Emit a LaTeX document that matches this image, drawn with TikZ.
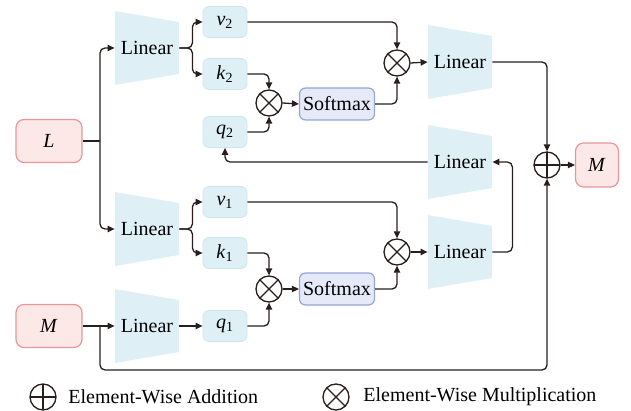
\documentclass[tikz,border=0pt]{standalone}
\usepackage{fontspec}
\setmainfont{Liberation Serif}
\usetikzlibrary{arrows.meta}
\definecolor{ink}{RGB}{40, 30, 30}
\definecolor{cyanfill}{RGB}{222, 240, 246}
\definecolor{cyanline}{RGB}{205, 230, 240}
\definecolor{pinkfill}{RGB}{252, 232, 230}
\definecolor{pinkline}{RGB}{232, 150, 155}
\definecolor{lavfill}{RGB}{230, 233, 248}
\definecolor{lavline}{RGB}{150, 165, 215}

\tikzset{
  lin/.style={minimum width=32pt, minimum height=37pt, inner sep=0pt,
    path picture={\fill[cyanfill] (path picture bounding box.north west)
      -- ([yshift=-5.5pt]path picture bounding box.north east)
      -- ([yshift=5.5pt]path picture bounding box.south east)
      -- (path picture bounding box.south west) -- cycle;}},
  qkv/.style={rounded corners=3pt, fill=cyanfill, draw=cyanline,
    minimum width=22pt, minimum height=15.5pt, inner sep=0pt},
  inout/.style={rounded corners=4pt, fill=pinkfill, draw=pinkline, line width=0.6pt,
    minimum width=33pt, minimum height=21.5pt, inner sep=0pt},
  softbox/.style={rounded corners=3pt, fill=lavfill, draw=lavline, line width=0.6pt,
    minimum width=37.5pt, minimum height=16pt, inner sep=0pt},
  mul/.style={circle, draw=ink, line width=0.65pt, minimum size=13pt, inner sep=0pt,
    path picture={\draw[ink, line width=0.65pt]
      (path picture bounding box.north west) -- (path picture bounding box.south east)
      (path picture bounding box.north east) -- (path picture bounding box.south west);}},
  add/.style={circle, draw=ink, line width=0.65pt, minimum size=13pt, inner sep=0pt,
    path picture={\draw[ink, line width=0.65pt]
      (path picture bounding box.north) -- (path picture bounding box.south)
      (path picture bounding box.west) -- (path picture bounding box.east);}},
  link/.style={ink, line width=0.65pt, rounded corners=2.5pt},
  arr/.style={link, -{Triangle[length=3.5pt, width=3.2pt]}}
}

\begin{document}
\begin{tikzpicture}[x=0.5pt, y=-0.5pt, font=\fontsize{10}{12}\selectfont]
  \useasboundingbox (0, 0) rectangle (631, 411);

  % inputs and output
  \node[inout] (L)  at (49, 141) {\textit{L}};
  \node[inout] (Mi) at (49, 326) {\textit{M}};
  \node[inout, minimum width=21.5pt, minimum height=22pt] (Mo) at (597, 165) {\textit{M}};

  % linear layers
  \node[lin] (lin2)    at (147, 48)  {Linear};
  \node[lin] (lin1)    at (147, 229) {Linear};
  \node[lin] (linq)    at (147, 326) {Linear};
  \node[lin] (linout2) at (460, 62)  {Linear};
  \node[lin] (linmid)  at (460, 162) {Linear};
  \node[lin] (linout1) at (460, 252) {Linear};

  \foreach \n/\s/\y in {v/2/22, k/2/74, q/2/132, v/1/202, k/1/253, q/1/326} {
    \node[qkv] (\n\s) at (225, \y) {\textit{\n}\textsubscript{\s}};
  }

  \node[mul] (mul2a) at (269, 103) {};
  \node[mul] (mul2b) at (397, 63)  {};
  \node[mul] (mul1a) at (269, 289) {};
  \node[mul] (mul1b) at (397, 252) {};
  \node[softbox] (soft2) at (337, 104) {Softmax};
  \node[softbox] (soft1) at (337, 289) {Softmax};
  \node[add] (plus) at (547, 165) {};

  \coordinate (lsplit) at (100, 141);
  \coordinate (msplit) at (100, 326);
  \coordinate (mbot)   at (100, 370);

  % connectors
  \draw[link] (L.east) -- (lsplit);
  \draw[arr] (lsplit) |- (lin2.west);
  \draw[arr] (lsplit) |- (lin1.west);
  \foreach \s in {1, 2} {
    \draw[arr] (lin\s.east) -- ++(13, 0) |- (v\s.west);
    \draw[arr] (lin\s.east) -- ++(13, 0) |- (k\s.west);
    \draw[arr] (v\s.east) -| (mul\s b.north);
    \draw[arr] (k\s.east) -| (mul\s a.north);
    \draw[arr] (q\s.east) -| (mul\s a.south);
    \draw[arr] (mul\s a.east) -- (soft\s.west);
    \draw[arr] (soft\s.east) -| (mul\s b.south);
    \draw[arr] (mul\s b.east) -- (linout\s.west);
  }
  \draw[arr] (Mi.east) -- (linq.west);
  \draw[arr] (linq.east) -- (q1.west);
  \draw[arr] (linout1.east) -- ++(20, 0) |- (linmid.east);
  \draw[arr] (linmid.west) -| (q2.south);
  \draw[arr] (linout2.east) -| (plus.north);
  \draw[arr] (msplit) -- (mbot) -| (plus.south);
  \draw[arr] (plus.east) -- (Mo.west);

  % legend
  \node[add] (addkey) at (43, 397) {};
  \node[anchor=west, inner sep=0pt] (addtext) at (68, 397) {Element-Wise Addition};
  \node[mul] (mulkey) at (336, 397) {};
  \node[anchor=west, inner sep=0pt] (multext) at (363, 397) {Element-Wise Multiplication};
\end{tikzpicture}
\end{document}
